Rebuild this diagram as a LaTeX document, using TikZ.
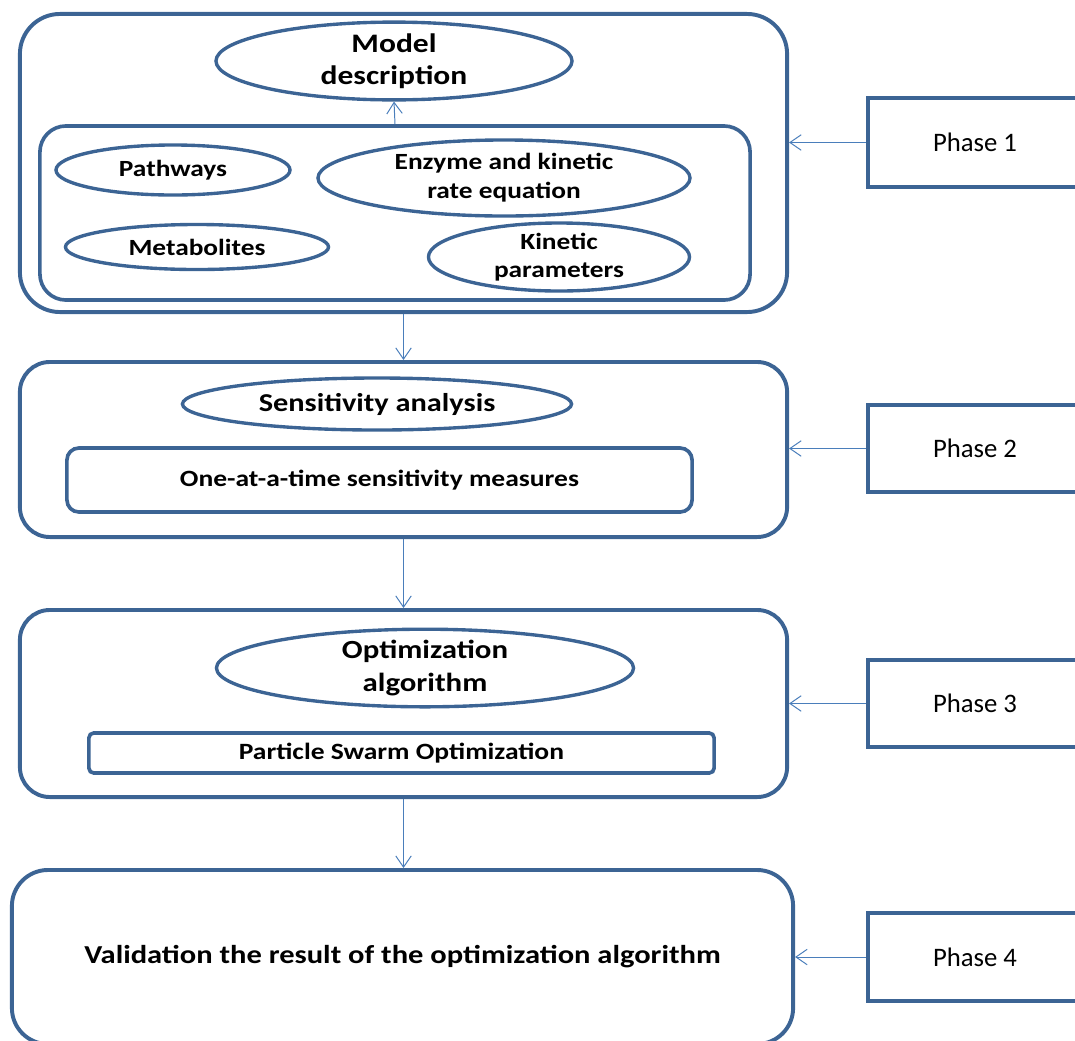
\documentclass[tikz,border=0pt]{standalone}
\usepackage{fontspec}
\setmainfont{Carlito}
\newfontfamily\labelfont{Carlito}[FakeStretch=1.18]
\usetikzlibrary{arrows.meta,positioning,shapes.geometric}
\definecolor{PhaseBlue}{HTML}{3C6494}
\definecolor{ArrowBlue}{HTML}{4A7EBB}
\begin{document}
\begin{tikzpicture}[
  x=0.025cm, y=-0.025cm,
  stagebox/.style={draw=PhaseBlue, line width=2.8pt, rounded corners=1cm, inner sep=0pt},
  innerbox/.style={draw=PhaseBlue, line width=2.6pt, inner sep=0pt, align=center, font=\labelfont\fontsize{16.6}{20}\selectfont\bfseries},
  topic/.style={ellipse, draw=PhaseBlue, line width=2.4pt, inner sep=0pt, align=center},
  phasebox/.style={draw=PhaseBlue, line width=2.8pt, minimum width=5.35cm, inner sep=0pt, font=\fontsize{19}{22}\selectfont},
  flow/.style={-{Straight Barb[length=8pt,width=11pt]}, line width=0.7pt, draw=ArrowBlue}
]
\clip (0,0) rectangle (1075,1040);
\node[stagebox, minimum width=19.175cm, minimum height=7.45cm] (box1) at (403.5,163) {};
\node[innerbox, rounded corners=0.65cm, minimum width=17.75cm, minimum height=4.35cm] (inner1) at (395,213) {};
\node[topic, minimum width=8.9cm, minimum height=1.55cm, font=\labelfont\fontsize{19}{22.8}\selectfont\bfseries] (model) at (394,61) {Model\\description};
\node[topic, minimum width=5.85cm, minimum height=1.25cm, font=\labelfont\fontsize{16.5}{20}\selectfont\bfseries] (pathways) at (173,170) {Pathways};
\node[topic, minimum width=9.3cm, minimum height=1.9cm, font=\labelfont\fontsize{16.5}{20.5}\selectfont\bfseries] (enzyme) at (504,178) {Enzyme and kinetic\\rate equation};
\node[topic, minimum width=6.575cm, minimum height=1.125cm, font=\labelfont\fontsize{16.5}{20}\selectfont\bfseries] (metabolites) at (197,247) {Metabolites};
\node[topic, minimum width=6.525cm, minimum height=1.625cm, font=\labelfont\fontsize{16.5}{20}\selectfont\bfseries] (kinetic) at (559,257) {Kinetic\\parameters};

\node[stagebox, rounded corners=0.75cm, minimum width=19.175cm, minimum height=4.375cm] (box2) at (403.5,449.5) {};
\node[topic, minimum width=9.725cm, minimum height=1.3cm, font=\labelfont\fontsize{18.3}{22}\selectfont\bfseries] (sensitivity) at (377,404) {Sensitivity analysis};
\node[innerbox, rounded corners=0.3cm, minimum width=15.625cm, minimum height=1.6cm] (oat) at (379.5,480) {One-at-a-time sensitivity measures};

\node[stagebox, rounded corners=0.75cm, minimum width=19.175cm, minimum height=4.675cm] (box3) at (403.5,703.5) {};
\node[topic, minimum width=10.425cm, minimum height=1.5cm, font=\labelfont\fontsize{18.6}{22.8}\selectfont\bfseries] (optim) at (425,668) {Optimization\\algorithm};
\node[innerbox, rounded corners=0.12cm, minimum width=15.625cm, minimum height=1cm] (pso) at (401.5,753) {Particle Swarm Optimization};

\node[stagebox, rounded corners=0.9cm, minimum width=19.525cm, minimum height=4.35cm, font=\labelfont\fontsize{18.4}{24}\selectfont\bfseries] (box4) at (402.5,957) {Validation the result of the optimization algorithm};

\node[phasebox, minimum height=2.225cm] (phase1) at (975,142.5) {Phase 1};
\node[phasebox, minimum height=2.175cm] (phase2) at (975,448.5) {Phase 2};
\node[phasebox, minimum height=2.175cm] (phase3) at (975,703.5) {Phase 3};
\node[phasebox, minimum height=2.2cm] (phase4) at (975,957) {Phase 4};

\draw[flow] (inner1.north) -- (model.south);
\draw[flow] (box1.south) -- (box2.north);
\draw[flow] (box2.south) -- (box3.north);
\draw[flow] (box3.south) -- (box3.south |- box4.north);
\draw[flow] (phase1.west) -- (phase1.west -| box1.east);
\draw[flow] (phase2.west) -- (phase2.west -| box2.east);
\draw[flow] (phase3.west) -- (phase3.west -| box3.east);
\draw[flow] (phase4.west) -- (phase4.west -| box4.east);
\end{tikzpicture}
\end{document}
